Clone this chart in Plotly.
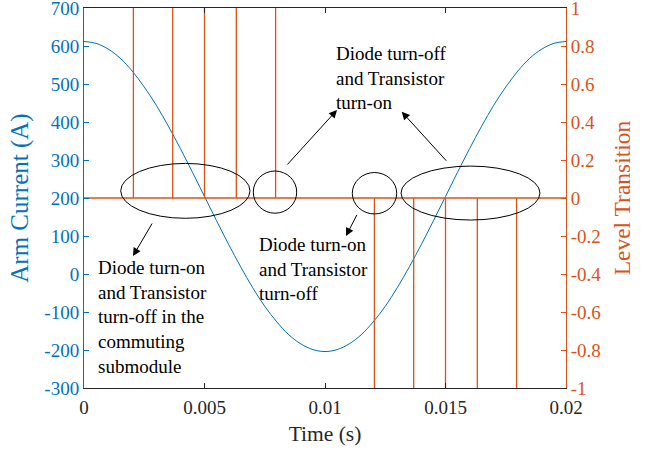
import plotly.graph_objects as go

# ---- data ----
time_s = [0.0, 0.0005, 0.001, 0.0015, 0.002, 0.0025, 0.003, 0.0035, 0.004, 0.0045,
          0.005, 0.0055, 0.006, 0.0065, 0.007, 0.0075, 0.008, 0.0085, 0.009, 0.0095,
          0.010, 0.0105, 0.011, 0.0115, 0.012, 0.0125, 0.013, 0.0135, 0.014, 0.0145,
          0.015, 0.0155, 0.016, 0.0165, 0.017, 0.0175, 0.018, 0.0185, 0.019, 0.0195, 0.020]
arm_current = [612, 607, 592, 568, 534, 492, 444, 389, 330, 268,
               204, 140, 78, 19, -36, -85, -126, -160, -184, -199,
               -204, -199, -184, -160, -126, -85, -36, 19, 78, 140,
               204, 268, 330, 389, 444, 492, 534, 568, 592, 607, 612]

up_transition_times = [0.00205, 0.00368, 0.0050, 0.00632, 0.00795]
down_transition_times = [0.01205, 0.01368, 0.0150, 0.01632, 0.01795]
baseline_x = [0.0, 0.02]
baseline_level = [0, 0]

x_tickvals = [0, 0.005, 0.01, 0.015, 0.02]
x_ticktext = ["0", "0.005", "0.01", "0.015", "0.02"]
y_tickvals = [-300, -200, -100, 0, 100, 200, 300, 400, 500, 600, 700]
y_ticktext = ["-300", "-200", "-100", "0", "100", "200", "300", "400", "500", "600", "700"]
y2_tickvals = [-1, -0.8, -0.6, -0.4, -0.2, 0, 0.2, 0.4, 0.6, 0.8, 1]
y2_ticktext = ["-1", "-0.8", "-0.6", "-0.4", "-0.2", "0", "0.2", "0.4", "0.6", "0.8", "1"]

BLUE = "#0072BD"
ORANGE = "#D95319"
DARK = "#262626"
FONT = "Liberation Serif"

# ---- build vertical transition segments ----
vx, vy = [], []
for t in up_transition_times:
    vx += [t, t, None]
    vy += [0, 1, None]
for t in down_transition_times:
    vx += [t, t, None]
    vy += [0, -1, None]

fig = go.Figure()
fig.add_trace(go.Scatter(x=time_s, y=arm_current, mode="lines", line=dict(color=BLUE, width=1, shape="spline"),
                         yaxis="y", showlegend=False, hoverinfo="skip"))
fig.add_trace(go.Scatter(x=baseline_x, y=baseline_level, mode="lines", line=dict(color=ORANGE, width=1.3),
                         yaxis="y2", showlegend=False, hoverinfo="skip"))
fig.add_trace(go.Scatter(x=vx, y=vy, mode="lines", line=dict(color=ORANGE, width=1.3),
                         yaxis="y2", showlegend=False, hoverinfo="skip", connectgaps=False))

# ellipses
ellipses = [
    (0.001523, 146.6, 0.006888, 291.0),
    (0.007025, 160.0, 0.008826, 271.0),
    (0.011133, 158.0, 0.012975, 267.0),
    (0.013154, 142.0, 0.018921, 284.0),
]
for x0, y0, x1, y1 in ellipses:
    fig.add_shape(type="circle", xref="x", yref="y", x0=x0, y0=y0, x1=x1, y1=y1,
                  line=dict(color="black", width=1))

# arrows (head, tail)
arrows = [
    ((0.010498, 431.6), (0.008382, 284.2)),
    ((0.013183, 427.0), (0.015091, 294.0)),
    ((0.002033, 47.4), (0.002863, 136.8)),
    ((0.010871, 100.0), (0.011357, 159.7)),
]
for (hx, hy), (tx, ty) in arrows:
    fig.add_annotation(x=hx, y=hy, ax=tx, ay=ty, xref="x", yref="y", axref="x", ayref="y",
                       text="", showarrow=True, arrowhead=2, arrowsize=1.6, arrowwidth=1,
                       arrowcolor="black", standoff=0, startstandoff=0)

texts = [
    (0.010415, 515.8, "Diode turn-off<br>and Transistor<br>turn-on"),
    (0.000527, -113.0, "Diode turn-on<br>and Transistor<br>turn-off in the<br>commuting<br>submodule"),
    (0.007207, 13.2, "Diode turn-on<br>and Transistor<br>turn-off"),
]
for x, y, s in texts:
    fig.add_annotation(x=x, y=y, xref="x", yref="y", text=s, showarrow=False,
                       xanchor="left", yanchor="middle", align="left",
                       font=dict(family=FONT, size=19, color="black"), borderpad=0)

fig.update_layout(
    width=652, height=451,
    margin=dict(l=84, r=86, t=8, b=63),
    paper_bgcolor="white", plot_bgcolor="white",
    font=dict(family=FONT, size=19, color=DARK),
    xaxis=dict(range=[0, 0.02], tickvals=x_tickvals, ticktext=x_ticktext,
               showline=True, linecolor=DARK, linewidth=1, mirror="ticks",
               ticks="inside", ticklen=5, tickcolor=DARK, showgrid=False, zeroline=False,
               ticklabeloverflow="allow", automargin=False, ticklabelstandoff=2,
               tickfont=dict(family=FONT, size=19, color=DARK),
               title=dict(text="Time (s)", font=dict(family=FONT, size=21.5, color=DARK), standoff=9)),
    yaxis=dict(range=[-300, 700], tickvals=y_tickvals, ticktext=y_ticktext,
               showline=True, linecolor=BLUE, linewidth=1, ticks="inside", ticklen=5, tickcolor=BLUE,
               showgrid=False, zeroline=False, ticklabeloverflow="allow", automargin=False,
               tickfont=dict(family=FONT, size=19, color=BLUE),
               title=dict(text="Arm Current (A)", font=dict(family=FONT, size=25, color=BLUE), standoff=8)),
    yaxis2=dict(range=[-1, 1], tickvals=y2_tickvals, ticktext=y2_ticktext, overlaying="y", side="right",
                showline=True, linecolor=ORANGE, linewidth=1, ticks="inside", ticklen=5, tickcolor=ORANGE,
                showgrid=False, zeroline=False, ticklabeloverflow="allow", automargin=False,
                tickfont=dict(family=FONT, size=19, color=ORANGE),
                title=dict(text="Level Transition", font=dict(family=FONT, size=23.5, color=ORANGE), standoff=13)),
)

fig.write_html("out.html")
